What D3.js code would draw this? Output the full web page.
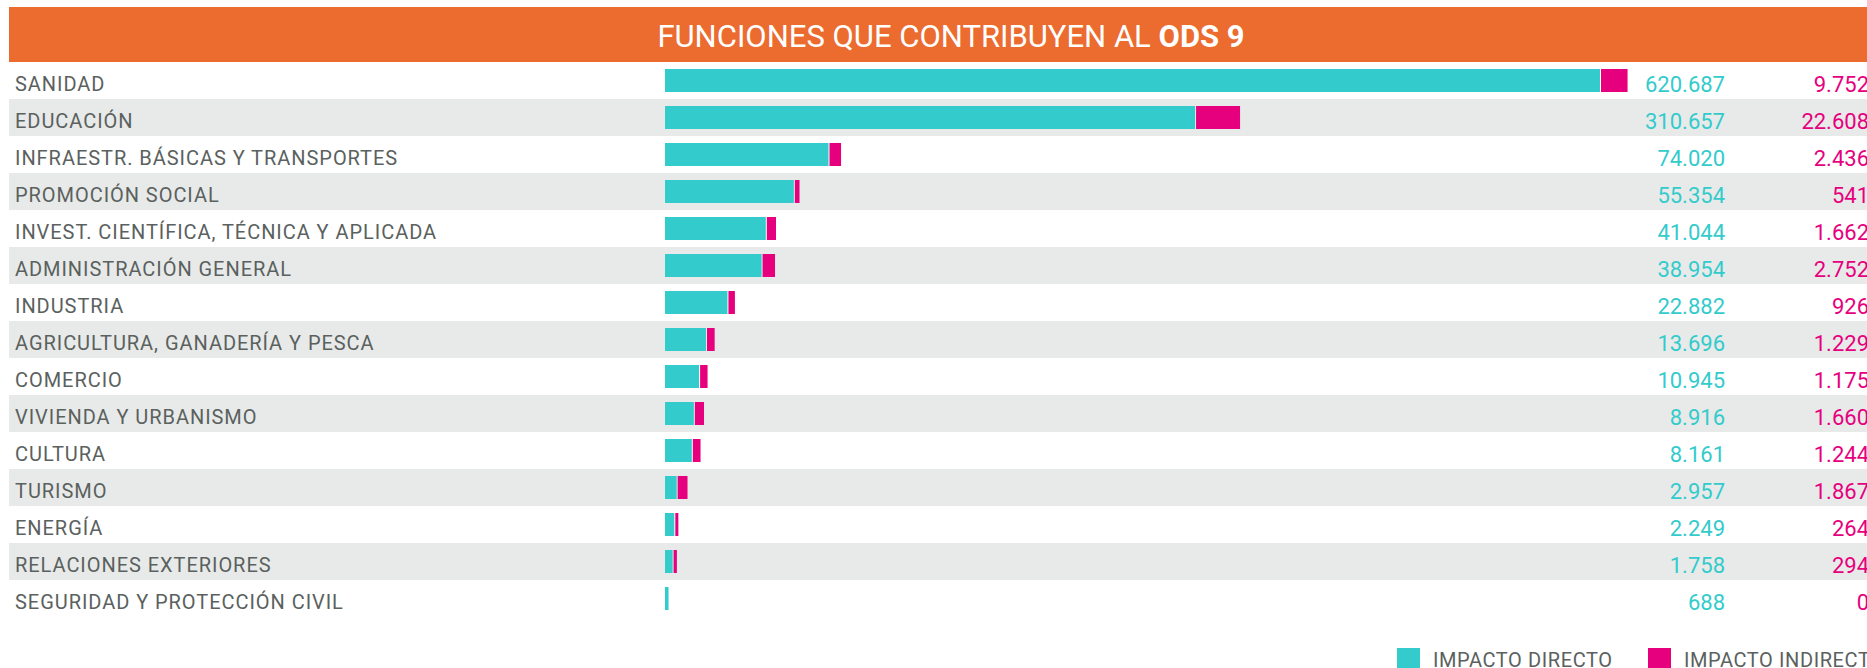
<!DOCTYPE html>
<html>
<head>
<meta charset="utf-8">
<script src="https://cdnjs.cloudflare.com/ajax/libs/d3/7.8.5/d3.min.js"></script>
<style>
    body { margin: 0; background: #fff; overflow: hidden; }
    text { font-family: Roboto, "Noto Sans", sans-serif; }
</style>
</head>
<body>
<div id="ods9"></div>
<script>
// datos del grafico
var funciones = ["SANIDAD", "EDUCACIÓN", "INFRAESTR. BÁSICAS Y TRANSPORTES", "PROMOCIÓN SOCIAL",
    "INVEST. CIENTÍFICA, TÉCNICA Y APLICADA", "ADMINISTRACIÓN GENERAL", "INDUSTRIA",
    "AGRICULTURA, GANADERÍA Y PESCA", "COMERCIO", "VIVIENDA Y URBANISMO", "CULTURA", "TURISMO",
    "ENERGÍA", "RELACIONES EXTERIORES", "SEGURIDAD Y PROTECCIÓN CIVIL"];
var impactoDirecto = [620687, 310657, 74020, 55354, 41044, 38954, 22882, 13696, 10945, 8916, 8161, 2957, 2249, 1758, 688];
var impactoIndirecto = [9752, 22608, 2436, 541, 1662, 2752, 926, 1229, 1175, 1660, 1244, 1867, 264, 294, 0];
var series = ["IMPACTO DIRECTO", "IMPACTO INDIRECTO"];
var colores = ["#33cbcc", "#e6007e"];
var titulo = "FUNCIONES QUE CONTRIBUYEN AL ";
var tituloNegrita = "ODS 9";

var width = 1867, height = 668;
var barLeft = 665;

var es = d3.formatLocale({ decimal: ",", thousands: ".", grouping: [3], currency: ["", " €"] });
var fmt = es.format(",d");

var filas = funciones.map(function (f, i) {
    return { "funcion": f, "directo": impactoDirecto[i], "indirecto": impactoIndirecto[i], "i": i };
});

var svg = d3.select("#ods9").append("svg")
    .attr("width", width)
    .attr("height", height);

// franja del titulo
svg.append("rect")
    .attr("x", 9).attr("y", 7)
    .attr("width", width - 9).attr("height", 55)
    .attr("fill", "#ec6b2f");

var t = svg.append("text")
    .attr("x", 951).attr("y", 47)
    .attr("text-anchor", "middle")
    .attr("fill", "#fff")
    .style("font-size", "31px");
t.append("tspan").text(titulo);
t.append("tspan").style("font-weight", "700").text(tituloNegrita);

// escalas
var y = d3.scaleBand()
    .domain(funciones)
    .range([62, 62 + 37 * funciones.length])
    .paddingInner(0);

// las barras del original no son lineales, se aproxima con potencias
var x = d3.scalePow()
    .exponent(0.82)
    .domain([0, d3.max(impactoDirecto)])
    .range([0, 935]);

var xInd = d3.scalePow()
    .exponent(0.6)
    .domain([0, d3.max(impactoIndirecto)])
    .range([0, 44]);

// franjas grises alternas
svg.selectAll(".franja")
    .data(filas.filter(function (d) { return d.i % 2 == 1; }))
    .enter().append("rect")
    .attr("class", "franja")
    .attr("x", 9)
    .attr("y", function (d) { return y(d.funcion); })
    .attr("width", width - 9)
    .attr("height", y.bandwidth())
    .attr("fill", "#e8eae9");

var barH = 23;
var g = svg.append("g").attr("transform", "translate(" + barLeft + ",0)");

g.selectAll(".directo")
    .data(filas)
    .enter().append("rect")
    .attr("class", "directo")
    .attr("x", 0)
    .attr("y", function (d) { return y(d.funcion) + (y.bandwidth() - barH) / 2; })
    .attr("width", function (d) { return x(d.directo); })
    .attr("height", barH)
    .attr("fill", colores[0]);

g.selectAll(".indirecto")
    .data(filas.filter(function (d) { return d.indirecto > 0; }))
    .enter().append("rect")
    .attr("class", "indirecto")
    .attr("x", function (d) { return x(d.directo) + 1; })
    .attr("y", function (d) { return y(d.funcion) + (y.bandwidth() - barH) / 2; })
    .attr("width", function (d) { return Math.max(2, xInd(d.indirecto)); })
    .attr("height", barH)
    .attr("fill", colores[1]);

// etiquetas de funciones
svg.selectAll(".etiqueta")
    .data(filas)
    .enter().append("text")
    .attr("class", "etiqueta")
    .attr("x", 15)
    .attr("y", function (d) { return y(d.funcion) + y.bandwidth() / 2 + 10.5; })
    .attr("fill", "#5a615e")
    .style("font-size", "20px")
    .style("letter-spacing", "0.95px")
    .text(function (d) { return d.funcion; });

// valores
svg.selectAll(".valDir")
    .data(filas)
    .enter().append("text")
    .attr("class", "valDir")
    .attr("x", 1725)
    .attr("y", function (d) { return y(d.funcion) + y.bandwidth() / 2 + 11.5; })
    .attr("text-anchor", "end")
    .attr("fill", colores[0])
    .style("font-size", "22px")
    .text(function (d) { return fmt(d.directo); });

svg.selectAll(".valInd")
    .data(filas)
    .enter().append("text")
    .attr("class", "valInd")
    .attr("x", 1869)
    .attr("y", function (d) { return y(d.funcion) + y.bandwidth() / 2 + 11.5; })
    .attr("text-anchor", "end")
    .attr("fill", colores[1])
    .style("font-size", "22px")
    .text(function (d) { return fmt(d.indirecto); });

// leyenda
var legendX = [1397, 1648];
var ley = svg.selectAll(".ley")
    .data(series)
    .enter().append("g")
    .attr("class", "ley")
    .attr("transform", function (d, i) { return "translate(" + legendX[i] + ",648)"; });
ley.append("rect")
    .attr("width", 23).attr("height", 23)
    .attr("fill", function (d, i) { return colores[i]; });
ley.append("text")
    .attr("x", 36).attr("y", 19)
    .attr("fill", "#5a615e")
    .style("font-size", "20px")
    .style("letter-spacing", "0.6px")
    .text(function (d) { return d; });
</script>
</body>
</html>
